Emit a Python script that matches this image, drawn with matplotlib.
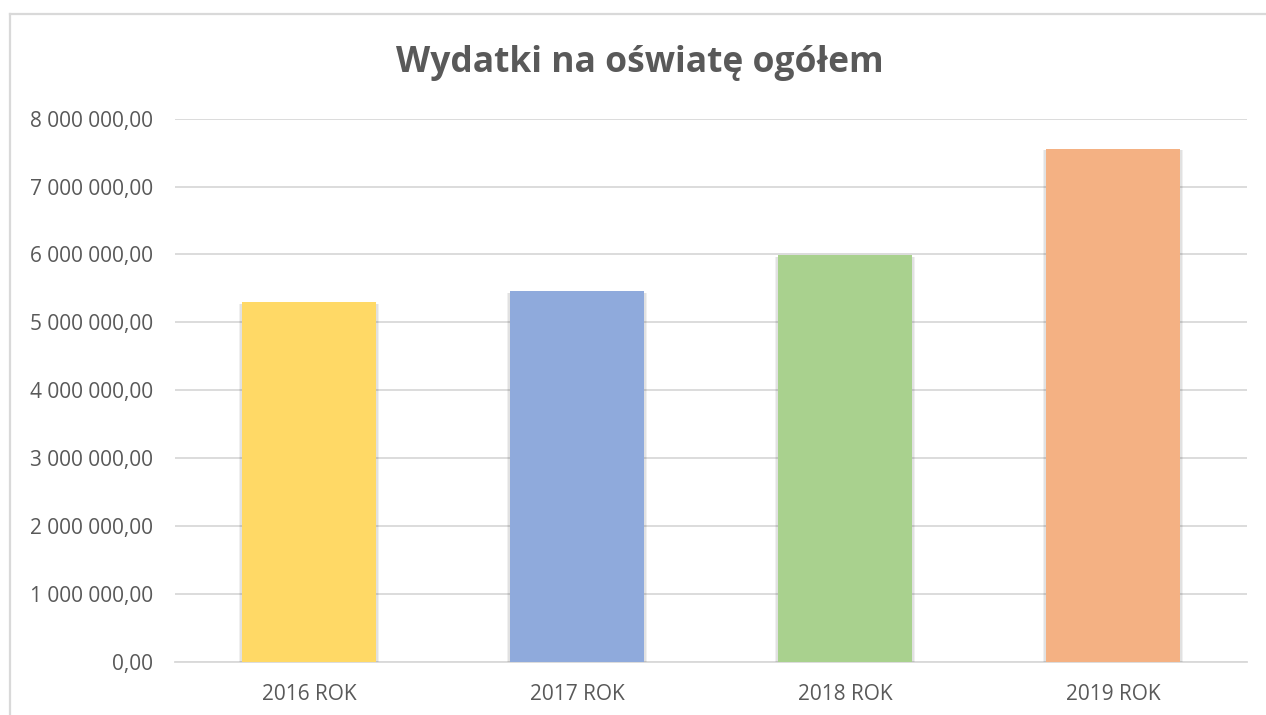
import matplotlib.pyplot as plt
import matplotlib.patheffects as pe
from matplotlib.ticker import FuncFormatter, MultipleLocator
from matplotlib.lines import Line2D

# dane
lata = ['2016 ROK', '2017 ROK', '2018 ROK', '2019 ROK']
wydatki = [5295000, 5455000, 5985000, 7560000]
kolory = ['#FFD966', '#8FAADC', '#A9D18E', '#F4B183']

tekst = '#595959'
siatka = '#D9D9D9'

plt.rcParams['font.family'] = ['Open Sans', 'DejaVu Sans']

fig = plt.figure(figsize=(12.66, 7.15), dpi=100)
ax = fig.add_axes([0.1382, 0.0741, 0.8468, 0.7600])

# ramka wykresu (lewa i górna krawędź)
fig.add_artist(Line2D([9.5 / 1266, 1.0], [1 - 13.5 / 715] * 2, color=siatka, lw=1.6,
                      transform=fig.transFigure))
fig.add_artist(Line2D([9.5 / 1266] * 2, [0.0, 1 - 13.5 / 715], color=siatka, lw=1.6,
                      transform=fig.transFigure))

x = range(len(lata))
slupki = ax.bar(x, wydatki, width=0.5, color=kolory, zorder=3)
# miękki cień wokół słupków
cien = [pe.SimplePatchShadow(offset=(dx, -1), shadow_rgbFace='#000000', alpha=0.06)
        for dx in (-2.2, -1.2, 1.2, 2.2)]
for s in slupki:
    s.set_path_effects(cien + [pe.Normal()])

ax.set_ylim(0, 8000000)
ax.set_xlim(-0.5, 3.5)
ax.yaxis.set_major_locator(MultipleLocator(1000000))


def fmt(v, pos):
    s = '{:,.2f}'.format(v)
    return s.replace(',', ' ').replace('.', ',')


ax.yaxis.set_major_formatter(FuncFormatter(fmt))
ax.set_xticks(list(x))
ax.set_xticklabels(lata)

ax.grid(axis='y', color=siatka, lw=1.3, zorder=0)
for sp in ['top', 'right', 'left']:
    ax.spines[sp].set_visible(False)
ax.spines['bottom'].set_color(siatka)
ax.spines['bottom'].set_linewidth(1.3)
ax.tick_params(axis='both', length=0, colors=tekst, labelsize=15)
ax.tick_params(axis='y', pad=16)
ax.tick_params(axis='x', pad=16)

fig.text(0.5055, 1 - 72 / 715, 'Wydatki na oświatę ogółem', ha='center', va='baseline',
         fontsize=25.5, fontweight='bold', color=tekst)

fig.savefig('out.png', dpi=100, facecolor='white')
